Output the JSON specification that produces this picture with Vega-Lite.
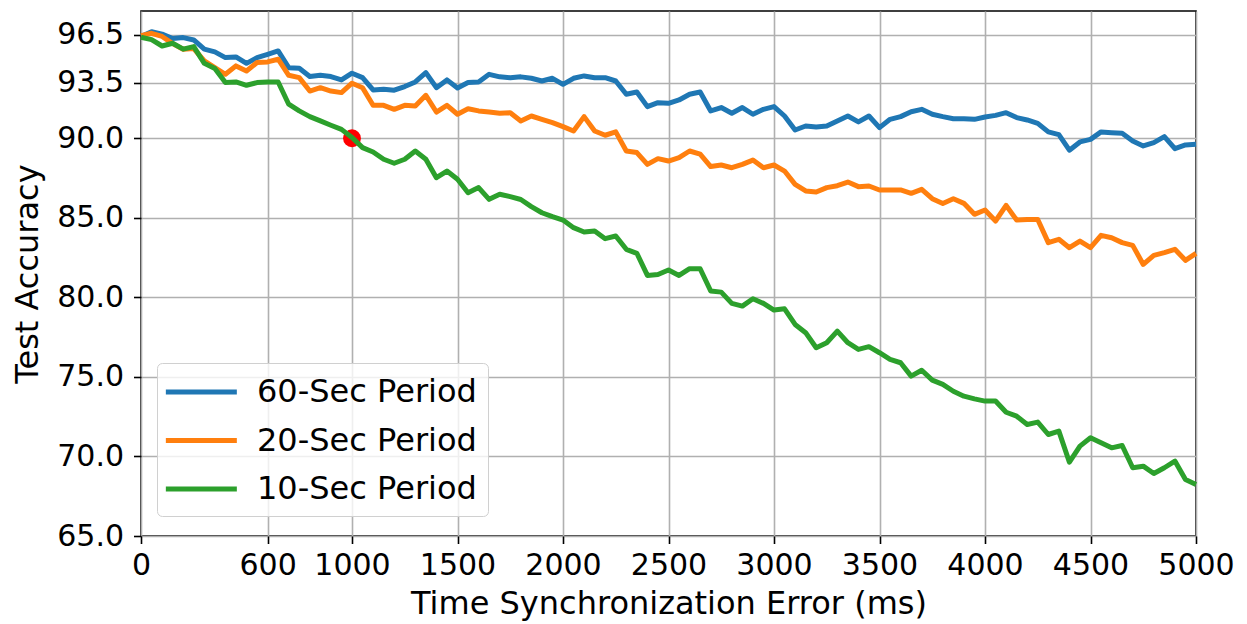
{
  "$schema": "https://vega.github.io/schema/vega-lite/v6.json",
  "width": 1055,
  "height": 525,
  "autosize": {"type": "none"},
  "padding": {"left": 141, "top": 11, "right": 51, "bottom": 88},
  "background": "white",
  "config": {
    "font": "DejaVu Sans",
    "view": {"stroke": "black", "strokeWidth": 1.6},
    "axis": {
      "domain": false,
      "grid": true,
      "gridColor": "#b0b0b0",
      "gridWidth": 1.6,
      "tickColor": "black",
      "tickWidth": 1.6,
      "tickSize": 7.5,
      "labelFont": "DejaVu Sans",
      "labelFontSize": 30,
      "labelColor": "black",
      "titleFont": "DejaVu Sans",
      "titleFontSize": 32,
      "titleFontWeight": "normal",
      "titleColor": "black"
    }
  },
  "datasets": {
    "accuracy": [
      {"ms": 0, "p60": 96.4, "p20": 96.45, "p10": 96.35},
      {"ms": 50, "p60": 96.7, "p20": 96.6, "p10": 96.2},
      {"ms": 100, "p60": 96.55, "p20": 96.4, "p10": 95.8},
      {"ms": 150, "p60": 96.27, "p20": 95.95, "p10": 95.97},
      {"ms": 200, "p60": 96.33, "p20": 95.6, "p10": 95.6},
      {"ms": 250, "p60": 96.18, "p20": 95.64, "p10": 95.76},
      {"ms": 300, "p60": 95.6, "p20": 94.86, "p10": 94.71},
      {"ms": 350, "p60": 95.43, "p20": 94.44, "p10": 94.38},
      {"ms": 400, "p60": 95.07, "p20": 94.02, "p10": 93.5},
      {"ms": 450, "p60": 95.11, "p20": 94.55, "p10": 93.54},
      {"ms": 500, "p60": 94.71, "p20": 94.23, "p10": 93.33},
      {"ms": 550, "p60": 95.07, "p20": 94.76, "p10": 93.5},
      {"ms": 600, "p60": 95.28, "p20": 94.8, "p10": 93.54},
      {"ms": 650, "p60": 95.49, "p20": 94.97, "p10": 93.54},
      {"ms": 700, "p60": 94.44, "p20": 93.96, "p10": 92.14},
      {"ms": 750, "p60": 94.4, "p20": 93.81, "p10": 91.72},
      {"ms": 800, "p60": 93.88, "p20": 92.97, "p10": 91.36},
      {"ms": 850, "p60": 93.96, "p20": 93.18, "p10": 91.09},
      {"ms": 900, "p60": 93.88, "p20": 92.97, "p10": 90.82},
      {"ms": 950, "p60": 93.67, "p20": 92.87, "p10": 90.56},
      {"ms": 1000, "p60": 94.09, "p20": 93.46, "p10": 90.05},
      {"ms": 1050, "p60": 93.81, "p20": 93.18, "p10": 89.41},
      {"ms": 1100, "p60": 93.04, "p20": 92.07, "p10": 89.14},
      {"ms": 1150, "p60": 93.08, "p20": 92.07, "p10": 88.68},
      {"ms": 1200, "p60": 93.02, "p20": 91.82, "p10": 88.43},
      {"ms": 1250, "p60": 93.25, "p20": 92.07, "p10": 88.68},
      {"ms": 1300, "p60": 93.54, "p20": 92.03, "p10": 89.2},
      {"ms": 1350, "p60": 94.13, "p20": 92.7, "p10": 88.68},
      {"ms": 1400, "p60": 93.18, "p20": 91.65, "p10": 87.52},
      {"ms": 1450, "p60": 93.67, "p20": 92.07, "p10": 87.94},
      {"ms": 1500, "p60": 93.16, "p20": 91.51, "p10": 87.42},
      {"ms": 1550, "p60": 93.5, "p20": 91.86, "p10": 86.58},
      {"ms": 1600, "p60": 93.54, "p20": 91.72, "p10": 86.9},
      {"ms": 1650, "p60": 94.02, "p20": 91.65, "p10": 86.16},
      {"ms": 1700, "p60": 93.86, "p20": 91.57, "p10": 86.48},
      {"ms": 1750, "p60": 93.81, "p20": 91.61, "p10": 86.33},
      {"ms": 1800, "p60": 93.86, "p20": 91.09, "p10": 86.15},
      {"ms": 1850, "p60": 93.77, "p20": 91.4, "p10": 85.7},
      {"ms": 1900, "p60": 93.6, "p20": 91.19, "p10": 85.32},
      {"ms": 1950, "p60": 93.77, "p20": 90.98, "p10": 85.07},
      {"ms": 2000, "p60": 93.39, "p20": 90.73, "p10": 84.86},
      {"ms": 2050, "p60": 93.77, "p20": 90.46, "p10": 84.38},
      {"ms": 2100, "p60": 93.92, "p20": 91.36, "p10": 84.11},
      {"ms": 2150, "p60": 93.81, "p20": 90.46, "p10": 84.17},
      {"ms": 2200, "p60": 93.81, "p20": 90.19, "p10": 83.69},
      {"ms": 2250, "p60": 93.6, "p20": 90.4, "p10": 83.86},
      {"ms": 2300, "p60": 92.77, "p20": 89.2, "p10": 83.02},
      {"ms": 2350, "p60": 92.91, "p20": 89.1, "p10": 82.77},
      {"ms": 2400, "p60": 91.99, "p20": 88.36, "p10": 81.38},
      {"ms": 2450, "p60": 92.24, "p20": 88.72, "p10": 81.44},
      {"ms": 2500, "p60": 92.2, "p20": 88.57, "p10": 81.72},
      {"ms": 2550, "p60": 92.41, "p20": 88.78, "p10": 81.38},
      {"ms": 2600, "p60": 92.77, "p20": 89.2, "p10": 81.8},
      {"ms": 2650, "p60": 92.91, "p20": 89.0, "p10": 81.8},
      {"ms": 2700, "p60": 91.72, "p20": 88.22, "p10": 80.4},
      {"ms": 2750, "p60": 91.93, "p20": 88.32, "p10": 80.33},
      {"ms": 2800, "p60": 91.57, "p20": 88.15, "p10": 79.62},
      {"ms": 2850, "p60": 91.93, "p20": 88.36, "p10": 79.45},
      {"ms": 2900, "p60": 91.51, "p20": 88.63, "p10": 79.91},
      {"ms": 2950, "p60": 91.82, "p20": 88.15, "p10": 79.62},
      {"ms": 3000, "p60": 91.99, "p20": 88.32, "p10": 79.2},
      {"ms": 3050, "p60": 91.4, "p20": 87.94, "p10": 79.28},
      {"ms": 3100, "p60": 90.52, "p20": 87.1, "p10": 78.3},
      {"ms": 3150, "p60": 90.77, "p20": 86.69, "p10": 77.78},
      {"ms": 3200, "p60": 90.71, "p20": 86.62, "p10": 76.83},
      {"ms": 3250, "p60": 90.77, "p20": 86.9, "p10": 77.15},
      {"ms": 3300, "p60": 91.09, "p20": 87.02, "p10": 77.88},
      {"ms": 3350, "p60": 91.4, "p20": 87.25, "p10": 77.15},
      {"ms": 3400, "p60": 91.03, "p20": 86.96, "p10": 76.73},
      {"ms": 3450, "p60": 91.4, "p20": 87.0, "p10": 76.9},
      {"ms": 3500, "p60": 90.67, "p20": 86.75, "p10": 76.52},
      {"ms": 3550, "p60": 91.19, "p20": 86.75, "p10": 76.1},
      {"ms": 3600, "p60": 91.36, "p20": 86.75, "p10": 75.89},
      {"ms": 3650, "p60": 91.67, "p20": 86.54, "p10": 75.05},
      {"ms": 3700, "p60": 91.82, "p20": 86.79, "p10": 75.42},
      {"ms": 3750, "p60": 91.51, "p20": 86.2, "p10": 74.8},
      {"ms": 3800, "p60": 91.36, "p20": 85.9, "p10": 74.53},
      {"ms": 3850, "p60": 91.23, "p20": 86.2, "p10": 74.1},
      {"ms": 3900, "p60": 91.23, "p20": 85.91, "p10": 73.79},
      {"ms": 3950, "p60": 91.19, "p20": 85.22, "p10": 73.62},
      {"ms": 4000, "p60": 91.34, "p20": 85.49, "p10": 73.48},
      {"ms": 4050, "p60": 91.44, "p20": 84.8, "p10": 73.48},
      {"ms": 4100, "p60": 91.61, "p20": 85.78, "p10": 72.78},
      {"ms": 4150, "p60": 91.3, "p20": 84.86, "p10": 72.53},
      {"ms": 4200, "p60": 91.15, "p20": 84.9, "p10": 72.01},
      {"ms": 4250, "p60": 90.94, "p20": 84.9, "p10": 72.16},
      {"ms": 4300, "p60": 90.4, "p20": 83.44, "p10": 71.38},
      {"ms": 4350, "p60": 90.23, "p20": 83.65, "p10": 71.59},
      {"ms": 4400, "p60": 89.25, "p20": 83.12, "p10": 69.64},
      {"ms": 4450, "p60": 89.77, "p20": 83.54, "p10": 70.65},
      {"ms": 4500, "p60": 89.93, "p20": 83.12, "p10": 71.17},
      {"ms": 4550, "p60": 90.4, "p20": 83.9, "p10": 70.86},
      {"ms": 4600, "p60": 90.35, "p20": 83.75, "p10": 70.54},
      {"ms": 4650, "p60": 90.31, "p20": 83.44, "p10": 70.69},
      {"ms": 4700, "p60": 89.83, "p20": 83.27, "p10": 69.29},
      {"ms": 4750, "p60": 89.52, "p20": 82.07, "p10": 69.39},
      {"ms": 4800, "p60": 89.73, "p20": 82.64, "p10": 68.93},
      {"ms": 4850, "p60": 90.1, "p20": 82.81, "p10": 69.29},
      {"ms": 4900, "p60": 89.35, "p20": 83.02, "p10": 69.71},
      {"ms": 4950, "p60": 89.58, "p20": 82.33, "p10": 68.55},
      {"ms": 5000, "p60": 89.62, "p20": 82.77, "p10": 68.24}
    ],
    "marker": [
      {"ms": 1000, "acc": 90.0}
    ]
  },
  "encoding": {
    "x": {
      "field": "ms",
      "type": "quantitative",
      "scale": {"domain": [0, 5000], "nice": false, "zero": false},
      "axis": {
        "values": [0, 600, 1000, 1500, 2000, 2500, 3000, 3500, 4000, 4500, 5000],
        "format": "d",
        "labelPadding": 7,
        "labelFlush": false,
        "labelOverlap": false,
        "titlePadding": 8,
        "title": "Time Synchronization Error (ms)"
      }
    },
    "y": {
      "field": "acc",
      "type": "quantitative",
      "scale": {"domain": [65, 98], "nice": false, "zero": false},
      "axis": {
        "values": [65, 70, 75, 80, 85, 90, 93.5, 96.5],
        "format": ".1f",
        "labelPadding": 10,
        "labelOverlap": false,
        "titlePadding": 12,
        "title": "Test Accuracy"
      }
    }
  },
  "layer": [
    {
      "data": {"name": "marker"},
      "mark": {"type": "point", "filled": true, "color": "#ff0000", "opacity": 1, "size": 320}
    },
    {
      "data": {"name": "accuracy"},
      "transform": [
        {"fold": ["p60", "p20", "p10"], "as": ["key", "acc"]},
        {"lookup": "key", "from": {"data": {"values": [
          {"key": "p60", "series": "60-Sec Period"},
          {"key": "p20", "series": "20-Sec Period"},
          {"key": "p10", "series": "10-Sec Period"}
        ]}, "key": "key", "fields": ["series"]}}
      ],
      "mark": {"type": "line", "strokeWidth": 5, "strokeJoin": "round", "strokeCap": "butt"},
      "encoding": {
        "color": {
          "field": "series",
          "type": "nominal",
          "scale": {
            "domain": ["60-Sec Period", "20-Sec Period", "10-Sec Period"],
            "range": ["#1f77b4", "#ff7f0e", "#2ca02c"]
          },
          "legend": {
            "title": null,
            "orient": "none",
            "legendX": 16,
            "legendY": 352,
            "padding": 11,
            "fillColor": "rgba(255,255,255,0.8)",
            "strokeColor": "#d0d0d0",
            "cornerRadius": 5,
            "symbolType": "M-1.3,0H3.28",
            "symbolSize": 961,
            "symbolStrokeWidth": 5,
            "labelFont": "DejaVu Sans",
            "labelFontSize": 32,
            "labelColor": "black",
            "labelLimit": 400,
            "labelOffset": 53,
            "rowPadding": 14.5
          }
        }
      }
    }
  ]
}
